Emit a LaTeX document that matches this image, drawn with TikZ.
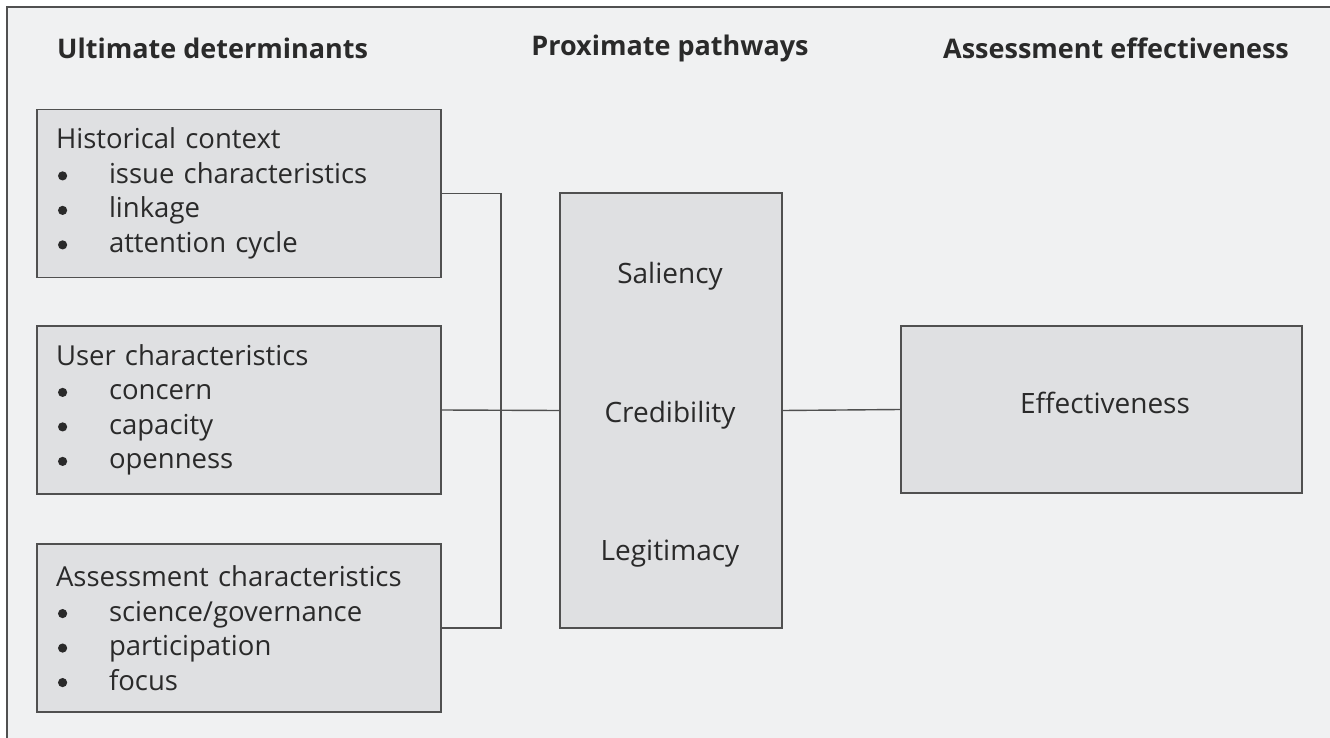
\documentclass[tikz,border=0pt]{standalone}
\usepackage{fontspec}
\setmainfont{Open Sans}
\definecolor{bg}{HTML}{F0F1F2}
\definecolor{boxfill}{HTML}{DFE0E2}
\definecolor{edge}{HTML}{505050}
\definecolor{ink}{HTML}{2A2A2A}
\newcommand{\bul}{\makebox[53pt][l]{\hspace{2pt}\tikz[baseline=-7.5pt]\fill[ink] (0,0) circle (4.6pt);}}
\begin{document}
\begin{tikzpicture}[x=1pt,y=-1pt,
  every node/.style={text=ink},
  head/.style={font=\fontsize{27}{30}\selectfont\bfseries, inner sep=0pt},
  detbox/.style={draw=edge, line width=1.8pt, fill=boxfill, minimum width=404pt, minimum height=168pt,
    text width=366pt, inner xsep=19pt, align=left, font=\fontsize{27.5}{34.5}\selectfont},
  plainbox/.style={draw=edge, line width=1.8pt, fill=boxfill},
  lbl/.style={font=\fontsize{28}{30}\selectfont, inner sep=0pt},
  conn/.style={draw=edge, line width=1.4pt}]
\useasboundingbox (0,0) rectangle (1330,738);
\fill[white] (0,0) rectangle (1330,738);
\fill[bg] (7,7) rectangle (1330,738);
\draw[edge, line width=1.6pt] (7,738) -- (7,7) -- (1330,7);

\node[head, anchor=west] (h1) at (57,48) {Ultimate determinants};
\node[head] (h2) at (670,48) {Proximate pathways};
\node[head] (h3) at (1116,48) {Assessment effectiveness};

\node[detbox] (b1) at (239,193.5) {Historical context\\ \bul issue characteristics\\ \bul linkage\\ \bul attention cycle};
\node[detbox] (b2) at (239,410) {User characteristics\\ \bul concern\\ \bul capacity\\ \bul openness};
\node[detbox] (b3) at (239,628) {Assessment characteristics\\ \bul science/governance\\ \bul participation\\ \bul focus};

\node[plainbox, minimum width=222pt, minimum height=435pt] (mid) at (671,410.5) {};
\node[lbl] (s) at (670,276) {Saliency};
\node[lbl] (c) at (670,415) {Credibility};
\node[lbl] (l) at (670,554) {Legitimacy};

\node[plainbox, minimum width=401pt, minimum height=167pt] (eff) at (1101.5,409.5) {};
\node[lbl] (e) at (1105,403) {Effectiveness};

\coordinate (j) at (501,410);
\draw[conn] (b1.east) -- (b1.east -| j) -- (b3.east -| j) -- (b3.east);
\draw[conn] (b2.east) -- (mid.west);
\draw[conn] (mid.east) -- (eff.west);
\end{tikzpicture}
\end{document}
